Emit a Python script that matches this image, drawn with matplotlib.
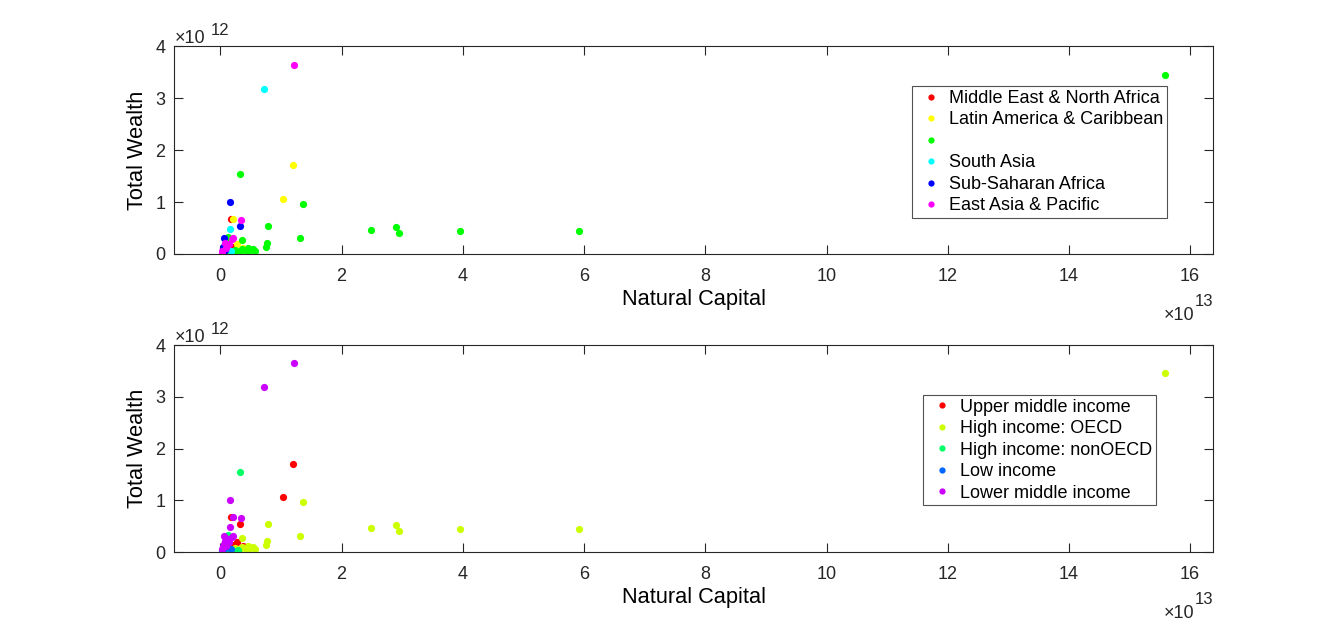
import matplotlib
matplotlib.use("Agg")
import matplotlib.pyplot as plt
from matplotlib.ticker import FuncFormatter
from matplotlib.lines import Line2D

plt.rcParams['font.family'] = ['Liberation Sans', 'DejaVu Sans']

# natural capital and total wealth per country
nat_cap = [1.21e13, 0.72e13, 1.19e13, 0.32e13, 1.04e13, 1.36e13, 0.165e13, 0.18e13,
           0.20e13, 0.34e13, 0.32e13, 0.78e13, 0.155e13, 0.055e13, 0.195e13, 0.355e13,
           1.31e13, 0.77e13, 0.745e13, 2.48e13, 2.89e13, 2.95e13, 3.95e13, 5.92e13,
           15.59e13, 0.27e13, 0.125e13, 0.04e13, 0.15e13, 0.10e13, 0.02e13, 0.03e13,
           0.24e13, 0.35e13, 0.46e13, 0.54e13, 0.29e13, 0.12e13, 0.43e13, 0.57e13,
           0.22e13, 0.07e13, 0.06e13, 0.20e13, 0.38e13, 0.08e13, 0.13e13, 0.17e13,
           0.05e13, 0.49e13, 0.32e13, 0.20e13]
total_wealth = [3.65e12, 3.18e12, 1.71e12, 1.54e12, 1.06e12, 0.96e12, 1.00e12, 0.67e12,
                0.68e12, 0.66e12, 0.54e12, 0.54e12, 0.48e12, 0.31e12, 0.29e12, 0.27e12,
                0.30e12, 0.22e12, 0.13e12, 0.47e12, 0.52e12, 0.40e12, 0.45e12, 0.45e12,
                3.45e12, 0.20e12, 0.32e12, 0.11e12, 0.20e12, 0.12e12, 0.05e12, 0.02e12,
                0.08e12, 0.10e12, 0.12e12, 0.10e12, 0.03e12, 0.03e12, 0.05e12, 0.05e12,
                0.02e12, 0.08e12, 0.15e12, 0.14e12, 0.12e12, 0.22e12, 0.25e12, 0.06e12,
                0.01e12, 0.08e12, 0.06e12, 0.30e12]
region = ['EAP', 'SA', 'LAC', 'ECA', 'LAC', 'ECA', 'SSA', 'MENA',
          'LAC', 'EAP', 'SSA', 'ECA', 'SA', 'SSA', 'EAP', 'ECA',
          'ECA', 'ECA', 'ECA', 'ECA', 'ECA', 'ECA', 'ECA', 'ECA',
          'ECA', 'LAC', 'ECA', 'SSA', 'EAP', 'EAP', 'EAP', 'EAP',
          'ECA', 'ECA', 'ECA', 'ECA', 'ECA', 'ECA', 'ECA', 'ECA',
          'ECA', 'SSA', 'SSA', 'MENA', 'LAC', 'EAP', 'MENA', 'SA',
          'SSA', 'ECA', 'ECA', 'EAP']
income = ['LM', 'LM', 'UM', 'NON', 'UM', 'OECD', 'LM', 'UM',
          'LM', 'LM', 'UM', 'OECD', 'LM', 'LM', 'LM', 'OECD',
          'OECD', 'OECD', 'OECD', 'OECD', 'OECD', 'OECD', 'OECD', 'OECD',
          'OECD', 'UM', 'NON', 'LM', 'LM', 'LM', 'LM', 'LOW',
          'OECD', 'OECD', 'OECD', 'OECD', 'NON', 'NON', 'OECD', 'OECD',
          'NON', 'LOW', 'LM', 'UM', 'UM', 'LM', 'LM', 'LOW',
          'LOW', 'OECD', 'OECD', 'LM']

region_keys = ['MENA', 'LAC', 'ECA', 'SA', 'SSA', 'EAP']
region_names = ['Middle East & North Africa', 'Latin America & Caribbean', '',
                'South Asia', 'Sub-Saharan Africa', 'East Asia & Pacific']
region_colors = [(1, 0, 0), (1, 1, 0), (0, 1, 0), (0, 1, 1), (0, 0, 1), (1, 0, 1)]

income_keys = ['UM', 'OECD', 'NON', 'LOW', 'LM']
income_names = ['Upper middle income', 'High income: OECD', 'High income: nonOECD',
                'Low income', 'Lower middle income']
income_colors = [(1, 0, 0), (0.8, 1, 0), (0, 1, 0.4), (0, 0.4, 1), (0.8, 0, 1)]

dark = (0.15, 0.15, 0.15)

fig = plt.figure(figsize=(13.41, 6.29), dpi=100)
ax1 = fig.add_axes([0.1300, 0.5962, 0.7747, 0.3300])
ax2 = fig.add_axes([0.1300, 0.1224, 0.7747, 0.3291])


def group_scatter(ax, groups, keys, names, colors, loc_box):
    handles = []
    for k, name, c in zip(keys, names, colors):
        xs = [x for x, g in zip(nat_cap, groups) if g == k]
        ys = [y for y, g in zip(total_wealth, groups) if g == k]
        ax.plot(xs, ys, 'o', ms=5.2, mfc=c, mec='none', ls='none')
        handles.append(Line2D([], [], marker='o', ms=4.5, mfc=c, mec='none', ls='none'))
    leg = ax.legend(handles, names, loc='upper left', bbox_to_anchor=loc_box,
                    fontsize=13, frameon=True, fancybox=False, handlelength=1.7,
                    handletextpad=0.15, borderpad=0.2, labelspacing=0.25,
                    borderaxespad=0)
    leg.get_frame().set_edgecolor(dark)
    leg.get_frame().set_linewidth(0.8)


group_scatter(ax1, region, region_keys, region_names, region_colors, (0.710, 0.808))
group_scatter(ax2, income, income_keys, income_names, income_colors, (0.7206, 0.758))

for ax in (ax1, ax2):
    ax.set_xlim(-0.76e13, 16.38e13)
    ax.set_ylim(0, 4e12)
    ax.set_xticks([i * 2e13 for i in range(9)])
    ax.set_yticks([i * 1e12 for i in range(5)])
    ax.xaxis.set_major_formatter(FuncFormatter(lambda v, p: f"{v / 1e13:g}"))
    ax.yaxis.set_major_formatter(FuncFormatter(lambda v, p: f"{v / 1e12:g}"))
    ax.tick_params(direction='in', length=6.5, width=0.8, colors=dark,
                   labelsize=13, top=True, right=True)
    ax.tick_params(axis='x', pad=10)
    ax.tick_params(axis='y', pad=6.5)
    for s in ax.spines.values():
        s.set_color(dark)
        s.set_linewidth(0.8)
    ax.set_xlabel('Natural Capital', fontsize=15.7, labelpad=3)
    ax.set_ylabel('Total Wealth', fontsize=15.7, labelpad=5)
    # exponent labels, MATLAB style
    ax.annotate('×10', xy=(0, 1), xycoords='axes fraction', xytext=(0, 2.2),
                textcoords='offset points', fontsize=13, color=dark,
                ha='left', va='baseline')
    ax.annotate('12', xy=(0, 1), xycoords='axes fraction', xytext=(26.5, 8.2),
                textcoords='offset points', fontsize=12, color=dark,
                ha='left', va='baseline')
    ax.annotate('13', xy=(1, 0), xycoords='axes fraction', xytext=(0, -37.5),
                textcoords='offset points', fontsize=12, color=dark,
                ha='right', va='baseline')
    ax.annotate('×10', xy=(1, 0), xycoords='axes fraction', xytext=(-13.5, -47.5),
                textcoords='offset points', fontsize=13, color=dark,
                ha='right', va='baseline')

fig.savefig('out.png', dpi=100)
